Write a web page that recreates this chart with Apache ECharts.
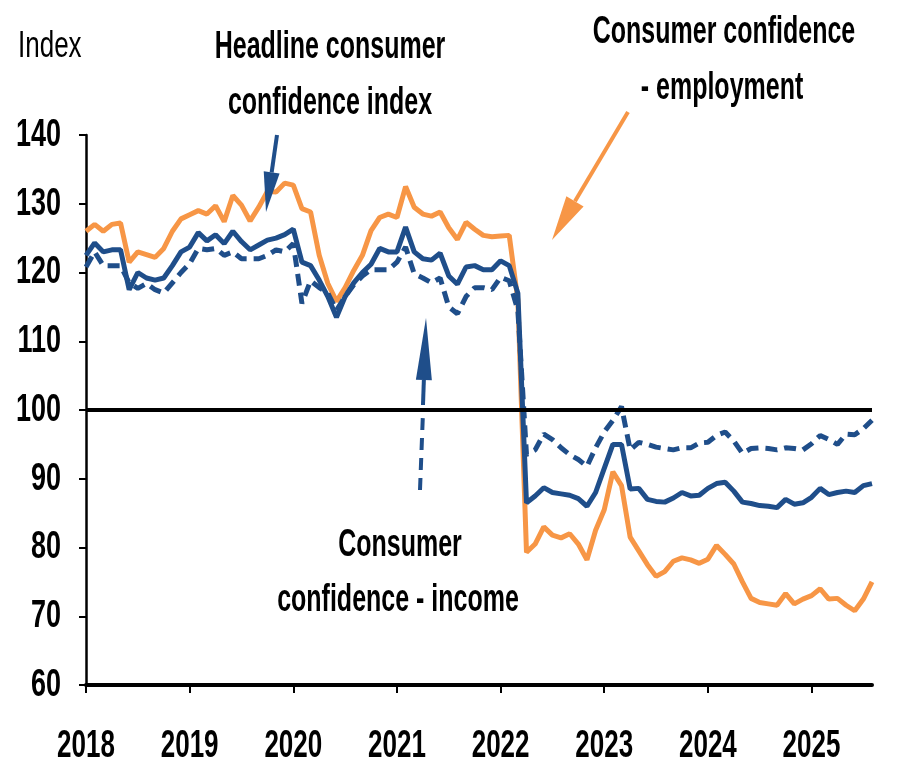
<!DOCTYPE html>
<html>
<head>
<meta charset="utf-8">
<script src="https://cdn.jsdelivr.net/npm/echarts@6/dist/echarts.min.js"></script>
<style>
  html, body { margin: 0; padding: 0; background: #fff; }
  #chart { width: 897px; height: 766px; }
</style>
</head>
<body>
<div id="chart"></div>
<script>
// ---- data (monthly, Jan 2018 - Aug 2025) ----
const years = ['2018', '2019', '2020', '2021', '2022', '2023', '2024', '2025'];
const lastYearMonths = 8;

const employment = [
  126, 127, 126, 127, 127.2, 121.5, 123, 122.6, 122.2, 123.5, 126, 127.8,
  128.4, 129, 128.5, 129.7, 127.4, 131.2, 129.8, 127.5, 129.5, 131.8, 131.7, 133,
  132.7, 129.3, 128.8, 122.5, 118.4, 115.8, 117.8, 120.3, 122.5, 126.1, 128, 128.5,
  128, 132.5, 129.5, 128.5, 128.2, 128.8, 126.5, 124.8, 127.3, 126.3, 125.4, 125.2,
  125.3, 125.4, 116, 79.3, 80.5, 83, 81.8, 81.4, 82, 80.5, 78.2, 82.5,
  85.5, 91, 89, 81.5, 79.5, 77.5, 75.8, 76.5, 78, 78.5, 78.2, 77.7,
  78.3, 80.3, 79, 77.6, 75, 72.6, 72, 71.8, 71.6, 73.3, 71.8, 72.5,
  73, 74, 72.5, 72.6, 71.6, 70.8, 72.5, 75
];
const headline = [
  122.5, 124.3, 123, 123.3, 123.3, 117.5, 120, 119.2, 118.9, 119.2, 121, 123,
  123.7, 125.8, 124.6, 125.5, 124.2, 126, 124.5, 123.3, 124, 124.7, 125, 125.5,
  126.3, 121.5, 121, 118.9, 116.5, 113.5, 116.5, 118.5, 120, 121.2, 123.5, 123,
  123, 126.6, 123, 122, 121.8, 122.8, 119.5, 118.3, 120.8, 121, 120.4, 120.4,
  121.7, 121, 117, 86.5, 87.5, 88.7, 88, 87.8, 87.6, 87.1, 86, 88,
  91.5, 95, 95, 88.5, 88.6, 87, 86.7, 86.6, 87.2, 88, 87.5, 87.6,
  88.6, 89.3, 89.5, 88.2, 86.6, 86.4, 86.1, 86, 85.8, 87, 86.3, 86.5,
  87.3, 88.6, 87.7, 88, 88.2, 88, 89, 89.3
];
const income = [
  120.8, 123, 121, 121, 121, 118.5, 117.7, 118.4, 117.5, 117, 118.5, 120,
  121.3, 123.5, 123.3, 123.5, 122.5, 123, 122, 122, 122, 122.5, 123.3, 123,
  124.2, 115.5, 118.8, 117.8, 117, 114.5, 116.5, 118.2, 119.5, 120.4, 120.4, 120.4,
  121.5, 123.7, 119.8, 119.2, 118.5, 119.2, 115, 114, 116.5, 117.8, 117.8, 117.5,
  119.3, 118.8, 114.5, 93.5, 94.2, 96.5, 95.7, 94.5, 93.5, 92.8, 91.8, 94.5,
  96.8, 98.5, 100.5, 94.2, 95.3, 95, 94.6, 94.4, 94.2, 94.5, 94.5, 95.2,
  95.3, 96.3, 96.8, 95.5, 93.7, 94.4, 94.5, 94.4, 94.2, 94.5, 94.4, 94.2,
  95.1, 96.3, 95.7, 95, 96.5, 96.4, 97.3, 98.5
];
const yTicks = [60, 70, 80, 90, 100, 110, 120, 130, 140];

// month categories like "2018-01"
const months = [];
years.forEach((y, yi) => {
  const n = yi === years.length - 1 ? lastYearMonths : 12;
  for (let m = 1; m <= n; m++) months.push(y + '-' + String(m).padStart(2, '0'));
});

const NAVY = '#1f4e8a';
const ORANGE = '#f79646';
const FONT = '"Liberation Sans Narrow", "Liberation Sans", Arial, sans-serif';

const isJan = (idx, val) => /-01$/.test(val);

const chart = echarts.init(document.getElementById('chart'), null, { renderer: 'canvas' });

chart.setOption({
  animation: false,
  grid: { left: 86, right: 25, top: 135, bottom: 81 },
  xAxis: {
    type: 'category',
    data: months,
    boundaryGap: false,
    axisLine: { lineStyle: { color: '#000', width: 4 } },
    axisTick: { show: true, interval: isJan, length: 8, lineStyle: { color: '#000', width: 2 } },
    axisLabel: { show: false },
    splitLine: { show: false }
  },
  yAxis: {
    type: 'value',
    min: 60, max: 140, interval: 10,
    axisLine: { show: true, lineStyle: { color: '#000', width: 2.5 } },
    axisTick: { show: true, length: 7, lineStyle: { color: '#000', width: 2 } },
    axisLabel: { show: false },
    splitLine: { show: false }
  },
  series: [
    {
      name: 'Consumer confidence - employment', type: 'line', data: employment,
      symbol: 'none', lineStyle: { color: ORANGE, width: 5 }, z: 2,
      markLine: {
        silent: true, symbol: 'none', label: { show: false },
        lineStyle: { color: '#000', width: 4, type: 'solid' },
        data: [{ yAxis: 100 }]
      }
    },
    {
      name: 'Consumer confidence - income', type: 'line', data: income,
      symbol: 'none', lineStyle: { color: NAVY, width: 5, type: [12, 7] }, z: 3
    },
    {
      name: 'Headline consumer confidence index', type: 'line', data: headline,
      symbol: 'none', lineStyle: { color: NAVY, width: 5 }, z: 4
    }
  ]
});

// ---- text helpers (condensed look: narrow font stretched vertically) ----
function label(text, x, y, opts) {
  opts = opts || {};
  const align = opts.align || 'center';
  return {
    type: 'text', x: x, y: y, scaleY: opts.sy || 1.55, z: 10,
    style: {
      text: text, fill: '#000',
      font: (opts.weight || 'bold') + ' ' + (opts.size || 25) + 'px ' + FONT,
      align: align, textAlign: align, verticalAlign: 'middle', textVerticalAlign: 'middle'
    }
  };
}

// arrow from (x1,y1) to tip (x2,y2)
function arrow(x1, y1, x2, y2, headLen, headW, color, width) {
  const dx = x2 - x1, dy = y2 - y1, len = Math.hypot(dx, dy);
  const ux = dx / len, uy = dy / len;
  const bx = x2 - ux * headLen, by = y2 - uy * headLen;
  const px = -uy * headW / 2, py = ux * headW / 2;
  return [
    { type: 'line', z: 10, shape: { x1: x1, y1: y1, x2: bx, y2: by },
      style: { stroke: color, lineWidth: width } },
    { type: 'polygon', z: 10,
      shape: { points: [[x2, y2], [bx + px, by + py], [bx - px, by - py]] },
      style: { fill: color } }
  ];
}

const g = [];
// tick labels placed through the axis scales
yTicks.forEach(v => {
  const py = chart.convertToPixel({ yAxisIndex: 0 }, v);
  g.push(label(String(v), 61, py, { size: 27, sy: 1.45, align: 'right' }));
});
years.forEach(y => {
  const px = chart.convertToPixel({ xAxisIndex: 0 }, y + '-01');
  g.push(label(y, px, 746, { size: 26, sy: 1.5 }));
});

g.push(label('Index', 18, 47, { weight: 'normal', size: 26, sy: 1.45, align: 'left' }));
g.push(label('Headline consumer', 330, 47));
g.push(label('confidence index', 330, 103));
g.push(label('Consumer confidence', 724, 32));
g.push(label('- employment', 722, 88));
g.push(label('Consumer', 400, 545));
g.push(label('confidence - income', 398, 600));

arrow(277, 135, 266, 212, 40, 16, NAVY, 4).forEach(e => g.push(e));
arrow(628, 112, 552, 240, 45, 20, ORANGE, 4).forEach(e => g.push(e));
// income arrow: dashed shaft below the 100 line, solid near the head
g.push({
  type: 'line', z: 10,
  shape: { x1: 420, y1: 490, x2: 423, y2: 412 },
  style: { stroke: NAVY, lineWidth: 4, lineDash: [12, 8] }
});
arrow(423, 405, 426, 318, 62, 16, NAVY, 4).forEach(e => g.push(e));

chart.setOption({ graphic: { elements: g } });
</script>
</body>
</html>
